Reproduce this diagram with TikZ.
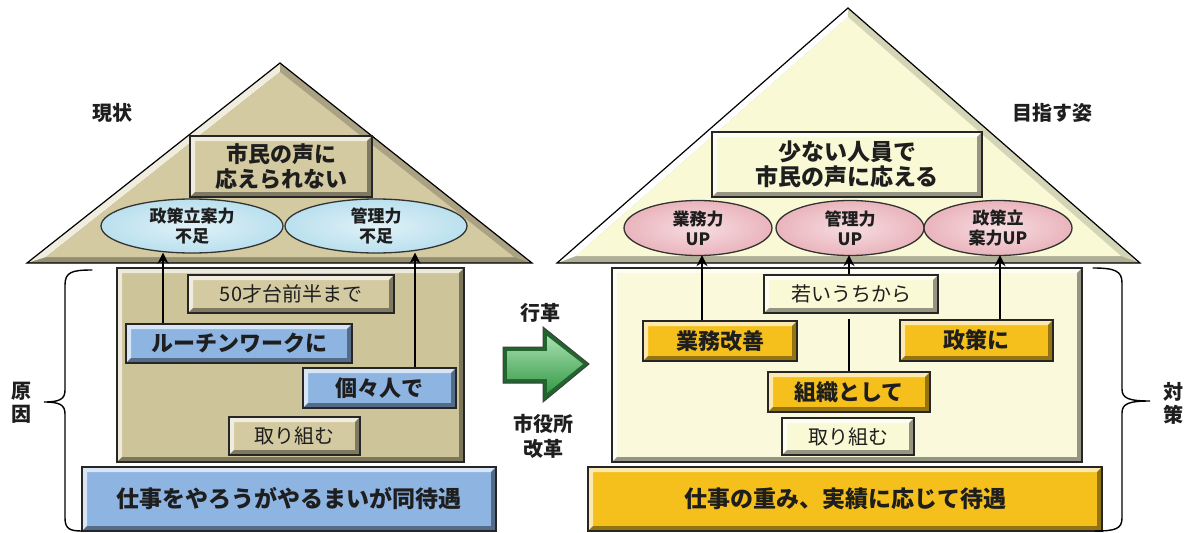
\documentclass[tikz,border=0pt]{standalone}
\usepackage{fontspec}
\setmainfont{Noto Sans CJK JP}
\usetikzlibrary{arrows.meta,shapes.geometric}
\newcommand\fsz[2]{\fontsize{#1}{#2}\selectfont}
\definecolor{tanT}{RGB}{212,202,162}
\definecolor{tanB}{RGB}{205,196,154}
\definecolor{bluB}{RGB}{142,180,226}
\definecolor{bluE}{RGB}{186,224,238}
\definecolor{crT}{RGB}{250,249,214}
\definecolor{crB}{RGB}{250,249,220}
\definecolor{pinkE}{RGB}{234,180,188}
\definecolor{orgB}{RGB}{246,192,28}
\definecolor{grnA}{RGB}{62,182,82}
\definecolor{txt}{RGB}{30,30,30}
\tikzset{
  bev/.style={path picture={
    \path (path picture bounding box.south west) coordinate (bsw)
          (path picture bounding box.north east) coordinate (bne)
          (path picture bounding box.north west) coordinate (bnw)
          (path picture bounding box.south east) coordinate (bse);
    \fill[#1!35!white] (bnw) -- (bne) -- ([shift={(-5pt,-5pt)}]bne) -- ([shift={(5pt,-5pt)}]bnw) -- ([shift={(5pt,5pt)}]bsw) -- (bsw) -- cycle;
    \fill[#1!60!black] (bse) -- (bsw) -- ([shift={(5pt,5pt)}]bsw) -- ([shift={(-5pt,5pt)}]bse) -- ([shift={(-5pt,-5pt)}]bne) -- (bne) -- cycle;
  }},
  box/.style={draw=black!85, line width=1.4pt, fill=#1, bev=#1, inner sep=0pt, text=txt, align=center},
  ell/.style={ellipse, draw=black!80, line width=1.3pt, inner color=#1!45!white, outer color=#1, inner sep=0pt, align=center, text=txt, font=\fsz{17}{20}\bfseries},
  arr/.style={line width=1.8pt, -{Stealth[length=11pt,width=11pt]}},
  ln/.style={line width=1.8pt},
  brc/.style={line width=1.4pt, line cap=round},
  lbl/.style={text=txt, align=center, font=\fsz{20}{23}\bfseries},
  big/.style={font=\fsz{22}{25}\bfseries},
  reg/.style={font=\fsz{20}{23}},
  bot/.style={font=\fsz{23}{26}\bfseries}
}
\begin{document}
\begin{tikzpicture}[x=1pt,y=-1pt]
\fill[white] (0,0) rectangle (1192,533);
\useasboundingbox (0,0) rectangle (1192,533);

% ---------- left roof ----------
\fill[tanT!70!black] (280,63) -- (27,263) -- (532,263) -- cycle;
\fill[tanT!35!white] (280,63) -- (27,263) -- (46,257) -- (280,72) -- cycle;
\fill[tanT!80!black] (280,63) -- (532,263) -- (514,257) -- (280,72) -- cycle;
\fill[tanT] (280,72) -- (46,257) -- (514,257) -- cycle;
\draw[line width=1.2pt, line join=miter] (280,63) -- (27,263) -- (532,263) -- cycle;

% ---------- right roof ----------
\fill[crT!70!black] (848,8) -- (557,263) -- (1140,263) -- cycle;
\fill[white] (848,8) -- (557,263) -- (576,256) -- (848,17) -- cycle;
\fill[crT!85!black] (848,8) -- (1140,263) -- (1121,256) -- (848,17) -- cycle;
\fill[crT] (848,17) -- (576,256) -- (1121,256) -- cycle;
\draw[line width=1.2pt, line join=miter] (848,8) -- (557,263) -- (1140,263) -- cycle;

% ---------- left house ----------
\node[lbl] (genjo) at (112,113) {現状};
\node[box=tanT, minimum width=182pt, minimum height=61pt, big] (lt) at (281,166.5) {市民の声に\\応えられない};
\node[ell=bluE, minimum width=182pt, minimum height=54pt] (le1) at (192,226) {政策立案力\\不足};
\node[ell=bluE, minimum width=182pt, minimum height=54pt] (le2) at (376,226) {管理力\\不足};

\node[box=tanB, minimum width=347pt, minimum height=194pt] (lb) at (290.5,365) {};
\node[box=tanT, minimum width=206pt, minimum height=38pt, reg] (l50) at (291,294) {50才台前半まで};
\node[box=bluB, minimum width=226pt, minimum height=39pt, big] (lrw) at (239,343.5) {ルーチンワークに};
\node[box=bluB, minimum width=153pt, minimum height=40pt, big] (lko) at (379.5,388) {個々人で};
\node[box=tanT, minimum width=131pt, minimum height=38pt, reg] (ltk) at (294.5,436) {取り組む};
\node[box=bluB, minimum width=414pt, minimum height=64pt, bot] (lbot) at (289,499) {仕事をやろうがやるまいが同待遇};

\coordinate (ax1) at (163,0);
\coordinate (ax2) at (415,0);
\draw[arr] (lrw.north -| ax1) -- ([yshift=1pt]le1.south -| ax1);
\draw[arr] (lko.north -| ax2) -- ([yshift=1pt]le2.south -| ax2);

% brace left
\draw[brc] (92,270) .. controls (72,270) and (65,272) .. (65,285) -- (65,390)
  .. controls (65,399) and (60,402) .. (44,402) .. controls (60,402) and (65,405) .. (65,414)
  -- (65,518) .. controls (65,529) and (70,531) .. (82,531);
\node[lbl] (gen) at (22,403) {原\\因};

% ---------- middle ----------
\fill[grnA!55!black] (503,347) -- (543,347) -- (543,327) -- (589,364) -- (543,402) -- (543,383) -- (503,383) -- cycle;
\shade[top color=grnA!45!white, bottom color=grnA!85!black] (507,351) -- (547,351) -- (547,336) -- (583,364) -- (547,393) -- (547,379) -- (507,379) -- cycle;
\draw[line width=1pt, black!75, line join=miter] (503,347) -- (543,347) -- (543,327) -- (589,364) -- (543,402) -- (543,383) -- (503,383) -- cycle;
\node[lbl] (gyo) at (540,313) {行革};
\node[lbl, font=\fsz{20}{25}\bfseries] (shi) at (543,436) {市役所\\改革};

% ---------- right house ----------
\node[lbl] (mez) at (1052,113) {目指す姿};
\node[box=crT, minimum width=270pt, minimum height=65pt, font=\fsz{23}{25}\bfseries] (rt) at (847,164.5) {少ない人員で\\市民の声に応える};
\node[ell=pinkE, minimum width=148pt, minimum height=55pt] (re1) at (698,228) {業務力\\UP};
\node[ell=pinkE, minimum width=148pt, minimum height=55pt] (re2) at (850,228) {管理力\\UP};
\node[ell=pinkE, minimum width=148pt, minimum height=55pt] (re3) at (998,228) {政策立\\案力UP};

\node[box=crB, minimum width=470pt, minimum height=194pt] (rb) at (847,365) {};
\node[box=crT, minimum width=174pt, minimum height=38pt, reg] (rwk) at (851,294) {若いうちから};
\node[box=orgB, minimum width=154pt, minimum height=40pt, big] (rgy) at (720,341) {業務改善};
\node[box=orgB, minimum width=153pt, minimum height=41pt, big] (rse) at (976.5,340.5) {政策に};
\node[box=orgB, minimum width=162pt, minimum height=40pt, big] (rso) at (849,392) {組織として};
\node[box=crT, minimum width=132pt, minimum height=37pt, reg] (rtk) at (848,436.5) {取り組む};
\node[box=orgB, minimum width=514pt, minimum height=64pt, bot] (rbot) at (845,499) {仕事の重み、実績に応じて待遇};

\coordinate (bx1) at (702,0);
\coordinate (bx2) at (849,0);
\coordinate (bx3) at (1000,0);
\draw[arr] (rgy.north -| bx1) -- ([yshift=1pt]re1.south -| bx1);
\draw[arr] (rwk.north -| bx2) -- ([yshift=1pt]re2.south -| bx2);
\draw[arr] (rse.north -| bx3) -- ([yshift=1pt]re3.south -| bx3);
\draw[ln, shorten >=5pt] (rso.north -| bx2) -- (rwk.south -| bx2);

% brace right
\draw[brc] (1093,268) .. controls (1115,268) and (1122,271) .. (1122,283) -- (1122,389)
  .. controls (1122,398) and (1128,401) .. (1150,401) .. controls (1128,401) and (1122,404) .. (1122,413)
  -- (1122,518) .. controls (1122,529) and (1115,531) .. (1095,531);
\node[lbl] (tai) at (1173,403) {対\\策};
\end{tikzpicture}
\end{document}
